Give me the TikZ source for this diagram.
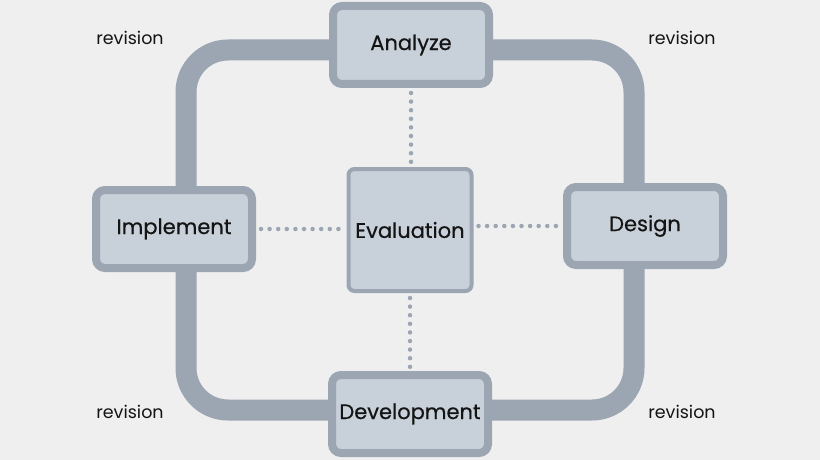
\documentclass[tikz,border=0pt]{standalone}
\usepackage{fontspec}
\setmainfont{Poppins}
\newfontfamily\medfont{Poppins}[FakeBold=0.5]
\definecolor{bgcol}{HTML}{EFEFEF}
\definecolor{loopcol}{HTML}{9BA6B2}
\definecolor{boxcol}{HTML}{C8D1D9}
\definecolor{txtcol}{HTML}{141414}
\begin{document}
\begin{tikzpicture}[x=1pt,y=-1pt,
  phase/.style={draw=loopcol,fill=boxcol,line width=8pt,rounded corners=9pt,
    minimum width=156pt,minimum height=78pt,inner sep=0pt,
    font=\medfont\fontsize{21}{24}\selectfont,text=txtcol},
  evalbox/.style={draw=loopcol,fill=boxcol,line width=4pt,rounded corners=6pt,
    minimum width=123pt,minimum height=122pt,inner sep=0pt,
    font=\medfont\fontsize{21}{24}\selectfont,text=txtcol},
  dots/.style={draw=loopcol,line width=4.5pt,line cap=round,
    dash pattern=on 0pt off 8.6pt,shorten <=5pt,shorten >=3pt},
  rev/.style={font=\fontsize{17.5}{20}\selectfont,text=txtcol}]
\fill[bgcol](0,0)rectangle(820,460);
\useasboundingbox(0,0)rectangle(820,460);
%
\draw[loopcol,line width=21pt,rounded corners=42pt](186,50)rectangle(634,410);
%
\node[phase](ana)at(411,45){Analyze};
\node[phase](des)at(645,226){Design};
\node[phase](dev)at(410,414){Development};
\node[phase](imp)at(174,229){Implement};
\node[evalbox](eva)at(410,230){Evaluation};
%
\draw[dots](ana.south)--(ana.south|-eva.north);
\draw[dots](eva.south-|dev.north)--(dev.north);
\draw[dots](imp.east)--(eva.west|-imp.east);
\draw[dots](eva.east|-des.west)--(des.west);
%
\node[rev](r1)at(130,38){revision};
\node[rev](r2)at(682,38){revision};
\node[rev](r3)at(130,412){revision};
\node[rev](r4)at(682,412){revision};
\end{tikzpicture}
\end{document}
